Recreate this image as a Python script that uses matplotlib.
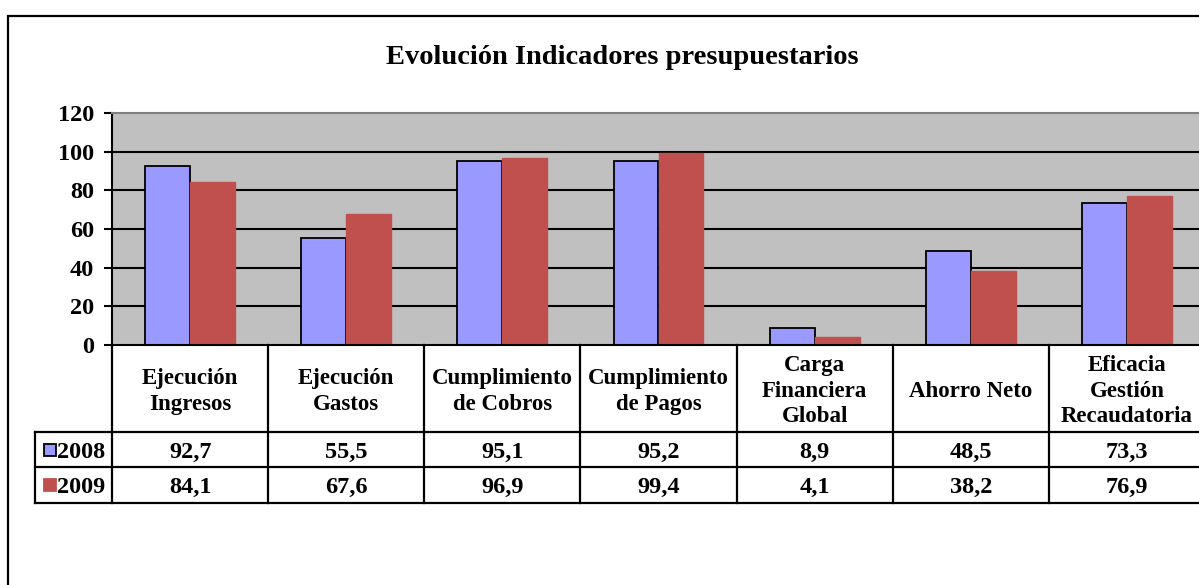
import numpy as np
import matplotlib.pyplot as plt
from matplotlib.patches import Rectangle

categories = ['Ejecución\nIngresos', 'Ejecución\nGastos', 'Cumplimiento\nde Cobros',
              'Cumplimiento\nde Pagos', 'Carga\nFinanciera\nGlobal', 'Ahorro Neto',
              'Eficacia\nGestión\nRecaudatoria']
v2008 = [92.7, 55.5, 95.1, 95.2, 8.9, 48.5, 73.3]
v2009 = [84.1, 67.6, 96.9, 99.4, 4.1, 38.2, 76.9]
series = ['2008', '2009']
yticks = [0, 20, 40, 60, 80, 100, 120]

colors = ['#9999FF', '#C0504D']
edges = ['black', '#C0504D']

plt.rcParams['font.family'] = ['Liberation Serif', 'DejaVu Serif']
plt.rcParams['font.weight'] = 'bold'

W, H = 1199, 585
fig = plt.figure(figsize=(W / 100, H / 100), dpi=100)


def box(l, t, r, b):
    # pixel box -> figure fraction
    return [l / W, 1 - b / H, (r - l) / W, (b - t) / H]


# outer chart frame
fig.add_artist(Rectangle((8 / W, -0.1), 1.2, 1 - 16 / H + 0.1, transform=fig.transFigure,
                         fill=False, lw=1.6, ec='black'))

fig.text(622 / W, 1 - 57 / H, 'Evolución Indicadores presupuestarios',
         ha='center', va='center', fontsize=20.5, fontweight='bold')

# bar chart
ax = fig.add_axes(box(112, 113, 1205, 345))
x = np.arange(len(categories))
bw = 0.288
ax.bar(x - bw / 2, v2008, bw, color=colors[0], edgecolor=edges[0], lw=1.3, zorder=2)
ax.bar(x + bw / 2, v2009, bw, color=colors[1], edgecolor=edges[1], lw=1.0, zorder=2)
ax.set_facecolor('#C0C0C0')
ax.set_xlim(-0.5, len(categories) - 0.5)
ax.set_ylim(0, 120)
for t in yticks[1:-1]:
    ax.axhline(t, color='black', lw=1.5, zorder=1)
ax.set_yticks(yticks)
ax.set_xticks([])
ax.tick_params(axis='y', direction='out', length=6, width=1.5, labelsize=17.5, pad=7)
ax.spines['top'].set_color('#808080')
ax.spines['top'].set_linewidth(1.5)
ax.spines['right'].set_visible(False)
ax.spines['left'].set_linewidth(1.5)
ax.spines['bottom'].set_linewidth(1.5)

# data table underneath
tab = fig.add_axes(box(35, 345, 1205, 503))
lab_w = 77 / 156
x0 = -0.5 - lab_w
x1 = len(categories) - 0.5
tab.set_xlim(x0, x1)
tab.set_ylim(0, 1)
tab.axis('off')
y_head = (503 - 432) / 158
y_mid = (503 - 467) / 158

kw = dict(color='black', lw=1.6, clip_on=False)
for y in [0, y_mid, y_head]:
    tab.plot([x0, x1], [y, y], **kw)
tab.plot([x0, x0], [0, y_head], **kw)
for b in np.arange(len(categories) + 1) - 0.5:
    tab.plot([b, b], [0, 1], **kw)

for i, c in enumerate(categories):
    tab.text(i, (1 + y_head) / 2 - 0.018, c, ha='center', va='center', fontsize=16.5,
             linespacing=1.28, fontweight='bold')

rows = [v2008, v2009]
row_y = [(y_head + y_mid) / 2, y_mid / 2]
for k, (name, vals, yc) in enumerate(zip(series, rows, row_y)):
    sq_w = 12 / 156
    sq_h = 12 / 158
    tab.add_patch(Rectangle((x0 + 9 / 156, yc - sq_h / 2), sq_w, sq_h,
                            fc=colors[k], ec=edges[k], lw=1.3, clip_on=False))
    tab.text(x0 + 22 / 156, yc, name, ha='left', va='center_baseline', fontsize=17.5,
             fontweight='bold')
    for i, v in enumerate(vals):
        tab.text(i, yc, f'{v:.1f}'.replace('.', ','), ha='center', va='center_baseline',
                 fontsize=17.5, fontweight='bold')

fig.savefig('out.png', dpi=100)
